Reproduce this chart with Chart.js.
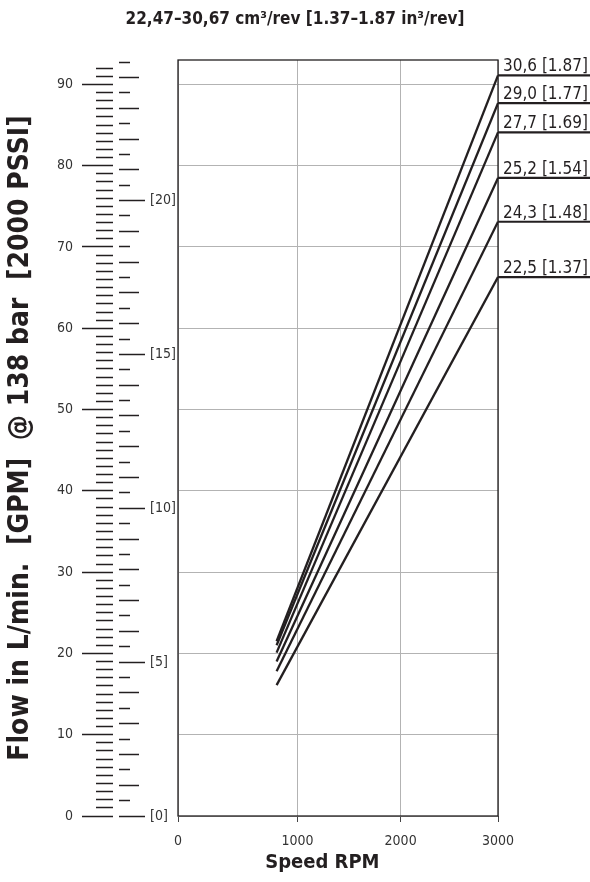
<!DOCTYPE html>
<html>
<head>
<meta charset="utf-8">
<script src="https://cdn.jsdelivr.net/npm/chart.js@4.4.1/dist/chart.umd.min.js"></script>
<style>
  html, body { margin: 0; padding: 0; background: #fff; }
  canvas { display: block; }
</style>
</head>
<body>
<canvas id="grafico" width="590" height="882"></canvas>
<script>
// datos (caudal en L/min a 138 bar)
const RPM = [825, 3000];
const SERIES_LABELS = ['30,6 [1.87]', '29,0 [1.77]', '27,7 [1.69]', '25,2 [1.54]', '24,3 [1.48]', '22,5 [1.37]'];
const FLOW_30_6 = [21.5, 91.1];
const FLOW_29_0 = [21.0, 87.7];
const FLOW_27_7 = [20.1, 84.1];
const FLOW_25_2 = [19.0, 78.5];
const FLOW_24_3 = [17.8, 73.1];
const FLOW_22_5 = [16.1, 66.3];

// etiquetas de los ejes
const RPM_TICKS = [0, 1000, 2000, 3000];
const FLOW_TICKS = [0, 10, 20, 30, 40, 50, 60, 70, 80, 90];
const GPM_TICKS = [0, 5, 10, 15, 20];

const L_PER_GPM = 3.78541;
const FLOW_MAX = 93;

// marcas menores de la regla (cada 1 L/min y cada 0,5 GPM)
const FLOW_MINOR = [];
for (let v = 0; v <= 92; v++) FLOW_MINOR.push(v);
const GPM_HALF = [];
for (let v = 0; v <= 24.5; v += 0.5) GPM_HALF.push(v);
const GPM_INT = [];
for (let v = 0; v <= 24; v++) GPM_INT.push(v);

const INK = '#231f20';
const GRID = '#b3b3b3';
const FONT = "'Liberation Sans Narrow', 'Arial Narrow', 'DejaVu Sans Condensed', sans-serif";

Chart.defaults.font.family = FONT;
Chart.defaults.color = INK;

// el eje X del original no es lineal: 0-1000 ocupa mas que 2000-3000
const X_FRAC = [0, 0.3735, 0.6957, 1];

function warp(v) {
  for (let i = 1; i < RPM_TICKS.length; i++) {
    if (v <= RPM_TICKS[i] || i === RPM_TICKS.length - 1) {
      const t = (v - RPM_TICKS[i - 1]) / (RPM_TICKS[i] - RPM_TICKS[i - 1]);
      return X_FRAC[i - 1] + t * (X_FRAC[i] - X_FRAC[i - 1]);
    }
  }
}
function unwarp(d) {
  for (let i = 1; i < X_FRAC.length; i++) {
    if (d <= X_FRAC[i] || i === X_FRAC.length - 1) {
      const t = (d - X_FRAC[i - 1]) / (X_FRAC[i] - X_FRAC[i - 1]);
      return RPM_TICKS[i - 1] + t * (RPM_TICKS[i] - RPM_TICKS[i - 1]);
    }
  }
}

class WarpScale extends Chart.LinearScale {
  getPixelForValue(value) {
    if (value === null || value === undefined) return NaN;
    return this.getPixelForDecimal(warp(value));
  }
  getValueForPixel(pixel) {
    return unwarp(this.getDecimalForPixel(pixel));
  }
}
WarpScale.id = 'warp';
WarpScale.defaults = Chart.LinearScale.defaults;
Chart.register(WarpScale);

// marco negro alrededor del area del grafico
const marco = {
  id: 'marco',
  beforeDatasetsDraw(chart) {
    const a = chart.chartArea;
    const ctx = chart.ctx;
    ctx.save();
    ctx.strokeStyle = INK;
    ctx.lineWidth = 1.3;
    ctx.strokeRect(a.left, a.top, a.right - a.left, a.bottom - a.top);
    ctx.restore();
  }
};

// etiquetas subrayadas a la derecha de cada linea
const etiquetas = {
  id: 'etiquetas',
  afterDatasetsDraw(chart) {
    const ctx = chart.ctx;
    const a = chart.chartArea;
    ctx.save();
    chart.data.datasets.forEach((ds, i) => {
      const meta = chart.getDatasetMeta(i);
      const last = meta.data[meta.data.length - 1];
      const y = last.y;
      ctx.strokeStyle = INK;
      ctx.lineWidth = 2.2;
      ctx.beginPath();
      ctx.moveTo(a.right, y);
      ctx.lineTo(chart.width, y);
      ctx.stroke();
      ctx.fillStyle = INK;
      ctx.font = '17px ' + FONT;
      ctx.textAlign = 'left';
      ctx.textBaseline = 'alphabetic';
      ctx.fillText(SERIES_LABELS[i], a.right + 5, y - 4);
    });
    ctx.restore();
  }
};

function fijarTicks(valores) {
  return function(axis) {
    axis.ticks = valores.map(v => ({ value: v }));
  };
}

function fijarAncho(w) {
  return function(axis) { axis.width = w; };
}

// cada columna de la regla es un eje sin lineas en el area
function regla(peso, ancho, largo, valores, max) {
  return {
    type: 'linear',
    position: 'left',
    weight: peso,
    min: 0,
    max: max,
    afterBuildTicks: fijarTicks(valores),
    afterFit: fijarAncho(ancho),
    border: { display: false },
    grid: {
      drawOnChartArea: false,
      drawTicks: true,
      tickLength: largo,
      tickColor: INK,
      tickWidth: 1.5
    },
    ticks: { display: false }
  };
}

const GPM_MAX = FLOW_MAX / L_PER_GPM;

const ctx = document.getElementById('grafico').getContext('2d');
const grafico = new Chart(ctx, {
  type: 'line',
  data: {
    labels: RPM,
    datasets: [FLOW_30_6, FLOW_29_0, FLOW_27_7, FLOW_25_2, FLOW_24_3, FLOW_22_5].map((serie, i) => ({
      label: SERIES_LABELS[i],
      data: RPM.map((r, k) => ({ x: r, y: serie[k] })),
      borderColor: INK,
      borderWidth: 2.3,
      pointRadius: 0,
      fill: false,
      tension: 0
    }))
  },
  options: {
    responsive: false,
    animation: false,
    layout: { padding: 0 },
    plugins: {
      legend: { display: false },
      tooltip: { enabled: false },
      title: {
        display: true,
        text: '22,47–30,67 cm³/rev [1.37–1.87 in³/rev]',
        color: INK,
        font: { size: 17, weight: 'bold', lineHeight: 1.2 },
        padding: { top: 9, bottom: 30.6 }
      }
    },
    scales: {
      x: {
        type: 'warp',
        min: 0,
        max: 3000,
        afterBuildTicks: fijarTicks(RPM_TICKS),
        afterFit: function(axis) { axis.height = 66; },
        border: { display: false },
        grid: {
          color: GRID,
          lineWidth: 1,
          drawTicks: true,
          tickLength: 6,
          tickColor: '#444'
        },
        ticks: {
          color: '#333',
          font: { size: 14 },
          padding: 11,
          maxRotation: 0,
          callback: v => String(v)
        },
        title: {
          display: true,
          text: 'Speed RPM     ',
          color: INK,
          font: { size: 20, weight: 'bold', lineHeight: 1.2 },
          padding: { top: 0, bottom: 7 }
        }
      },
      y: {
        type: 'linear',
        position: 'left',
        weight: 6,
        min: 0,
        max: FLOW_MAX,
        afterBuildTicks: fijarTicks(FLOW_TICKS),
        afterFit: fijarAncho(96),
        border: { display: false },
        grid: {
          color: GRID,
          lineWidth: 1,
          drawTicks: true,
          tickLength: 14,
          tickColor: INK,
          tickWidth: 1.5
        },
        ticks: { color: '#333', font: { size: 14 }, padding: 9 },
        title: {
          display: true,
          text: 'Flow in L/min.  [GPM]  @ 138 bar  [2000 PSSI]',
          color: INK,
          font: { size: 28, weight: 'bold', lineHeight: 1.2 },
          padding: { top: 4, bottom: 0 }
        }
      },
      flowMinor: regla(5, 17, 17, FLOW_MINOR, FLOW_MAX),
      gpmHalf: regla(4, 17, 11, GPM_HALF, GPM_MAX),
      gpmInt: regla(3, 9, 9, GPM_INT, GPM_MAX),
      gpmMain: {
        type: 'linear',
        position: 'left',
        weight: 2,
        min: 0,
        max: GPM_MAX,
        afterBuildTicks: fijarTicks(GPM_TICKS),
        afterFit: fijarAncho(6),
        border: { display: false },
        grid: {
          drawOnChartArea: false,
          drawTicks: true,
          tickLength: 6,
          tickColor: INK,
          tickWidth: 1.5
        },
        ticks: {
          display: true,
          mirror: true,
          padding: 5,
          color: '#333',
          font: { size: 14 },
          callback: v => '[' + v + ']'
        }
      },
      hueco: {
        type: 'linear',
        position: 'left',
        weight: 1,
        min: 0,
        max: GPM_MAX,
        afterFit: fijarAncho(33),
        border: { display: false },
        grid: { display: false },
        ticks: { display: false }
      },
      // espacio a la derecha para las etiquetas de cada linea
      derecha: {
        type: 'linear',
        position: 'right',
        min: 0,
        max: FLOW_MAX,
        afterFit: fijarAncho(92),
        border: { display: false },
        grid: { display: false },
        ticks: { display: false }
      }
    }
  },
  plugins: [marco, etiquetas]
});
</script>
</body>
</html>
